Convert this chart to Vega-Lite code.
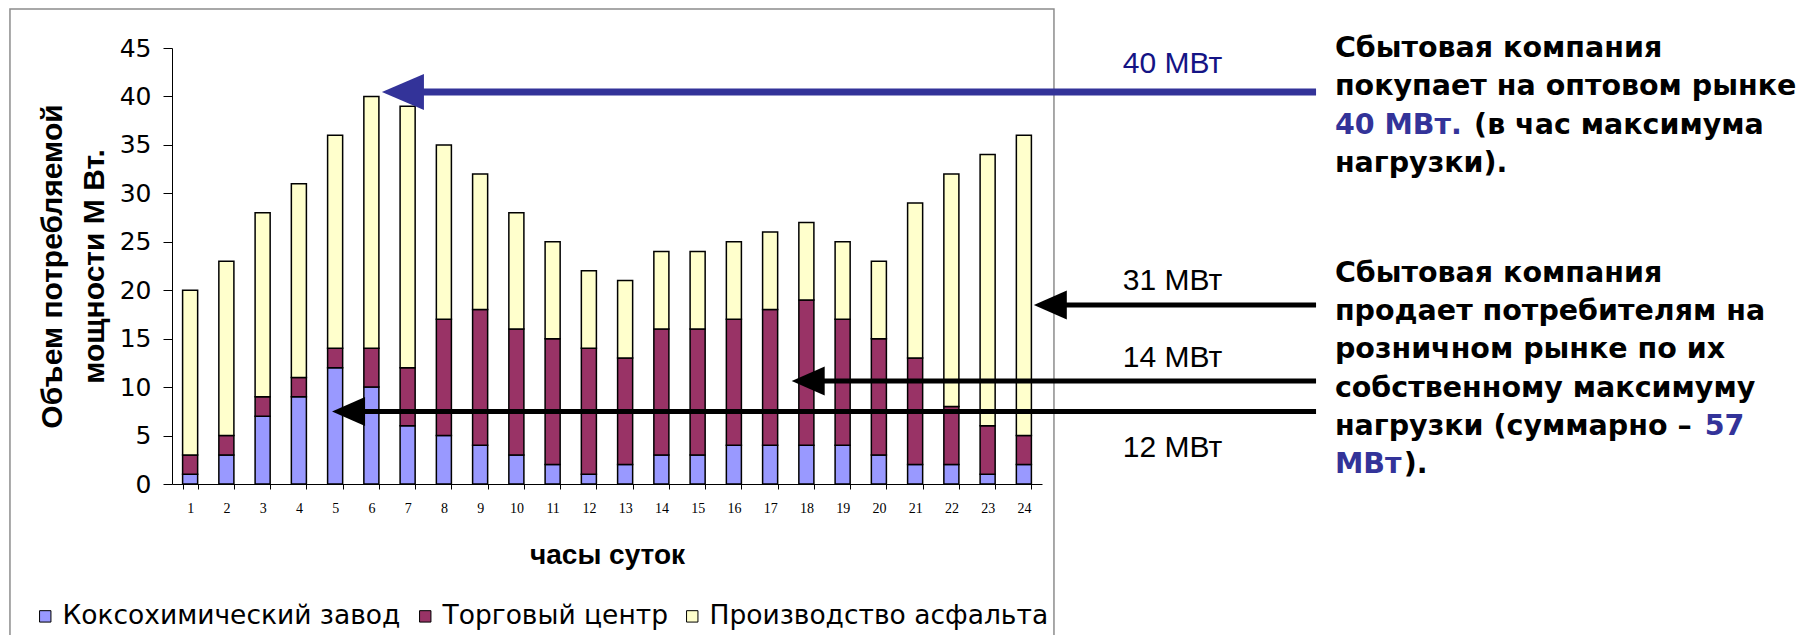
{
  "$schema": "https://vega.github.io/schema/vega-lite/v6.json",
  "width": 870,
  "height": 436,
  "autosize": {"type": "none"},
  "padding": {"left": 172, "top": 48, "right": 768, "bottom": 151},
  "background": "white",
  "config": {"view": {"stroke": null}, "font": "Liberation Sans"},
  "datasets": {
    "bars": [
      {"hour": 1, "series": "Коксохимический завод", "k": 1, "value": 1},
      {"hour": 1, "series": "Торговый центр", "k": 2, "value": 2},
      {"hour": 1, "series": "Производство асфальта", "k": 3, "value": 17},
      {"hour": 2, "series": "Коксохимический завод", "k": 1, "value": 3},
      {"hour": 2, "series": "Торговый центр", "k": 2, "value": 2},
      {"hour": 2, "series": "Производство асфальта", "k": 3, "value": 18},
      {"hour": 3, "series": "Коксохимический завод", "k": 1, "value": 7},
      {"hour": 3, "series": "Торговый центр", "k": 2, "value": 2},
      {"hour": 3, "series": "Производство асфальта", "k": 3, "value": 19},
      {"hour": 4, "series": "Коксохимический завод", "k": 1, "value": 9},
      {"hour": 4, "series": "Торговый центр", "k": 2, "value": 2},
      {"hour": 4, "series": "Производство асфальта", "k": 3, "value": 20},
      {"hour": 5, "series": "Коксохимический завод", "k": 1, "value": 12},
      {"hour": 5, "series": "Торговый центр", "k": 2, "value": 2},
      {"hour": 5, "series": "Производство асфальта", "k": 3, "value": 22},
      {"hour": 6, "series": "Коксохимический завод", "k": 1, "value": 10},
      {"hour": 6, "series": "Торговый центр", "k": 2, "value": 4},
      {"hour": 6, "series": "Производство асфальта", "k": 3, "value": 26},
      {"hour": 7, "series": "Коксохимический завод", "k": 1, "value": 6},
      {"hour": 7, "series": "Торговый центр", "k": 2, "value": 6},
      {"hour": 7, "series": "Производство асфальта", "k": 3, "value": 27},
      {"hour": 8, "series": "Коксохимический завод", "k": 1, "value": 5},
      {"hour": 8, "series": "Торговый центр", "k": 2, "value": 12},
      {"hour": 8, "series": "Производство асфальта", "k": 3, "value": 18},
      {"hour": 9, "series": "Коксохимический завод", "k": 1, "value": 4},
      {"hour": 9, "series": "Торговый центр", "k": 2, "value": 14},
      {"hour": 9, "series": "Производство асфальта", "k": 3, "value": 14},
      {"hour": 10, "series": "Коксохимический завод", "k": 1, "value": 3},
      {"hour": 10, "series": "Торговый центр", "k": 2, "value": 13},
      {"hour": 10, "series": "Производство асфальта", "k": 3, "value": 12},
      {"hour": 11, "series": "Коксохимический завод", "k": 1, "value": 2},
      {"hour": 11, "series": "Торговый центр", "k": 2, "value": 13},
      {"hour": 11, "series": "Производство асфальта", "k": 3, "value": 10},
      {"hour": 12, "series": "Коксохимический завод", "k": 1, "value": 1},
      {"hour": 12, "series": "Торговый центр", "k": 2, "value": 13},
      {"hour": 12, "series": "Производство асфальта", "k": 3, "value": 8},
      {"hour": 13, "series": "Коксохимический завод", "k": 1, "value": 2},
      {"hour": 13, "series": "Торговый центр", "k": 2, "value": 11},
      {"hour": 13, "series": "Производство асфальта", "k": 3, "value": 8},
      {"hour": 14, "series": "Коксохимический завод", "k": 1, "value": 3},
      {"hour": 14, "series": "Торговый центр", "k": 2, "value": 13},
      {"hour": 14, "series": "Производство асфальта", "k": 3, "value": 8},
      {"hour": 15, "series": "Коксохимический завод", "k": 1, "value": 3},
      {"hour": 15, "series": "Торговый центр", "k": 2, "value": 13},
      {"hour": 15, "series": "Производство асфальта", "k": 3, "value": 8},
      {"hour": 16, "series": "Коксохимический завод", "k": 1, "value": 4},
      {"hour": 16, "series": "Торговый центр", "k": 2, "value": 13},
      {"hour": 16, "series": "Производство асфальта", "k": 3, "value": 8},
      {"hour": 17, "series": "Коксохимический завод", "k": 1, "value": 4},
      {"hour": 17, "series": "Торговый центр", "k": 2, "value": 14},
      {"hour": 17, "series": "Производство асфальта", "k": 3, "value": 8},
      {"hour": 18, "series": "Коксохимический завод", "k": 1, "value": 4},
      {"hour": 18, "series": "Торговый центр", "k": 2, "value": 15},
      {"hour": 18, "series": "Производство асфальта", "k": 3, "value": 8},
      {"hour": 19, "series": "Коксохимический завод", "k": 1, "value": 4},
      {"hour": 19, "series": "Торговый центр", "k": 2, "value": 13},
      {"hour": 19, "series": "Производство асфальта", "k": 3, "value": 8},
      {"hour": 20, "series": "Коксохимический завод", "k": 1, "value": 3},
      {"hour": 20, "series": "Торговый центр", "k": 2, "value": 12},
      {"hour": 20, "series": "Производство асфальта", "k": 3, "value": 8},
      {"hour": 21, "series": "Коксохимический завод", "k": 1, "value": 2},
      {"hour": 21, "series": "Торговый центр", "k": 2, "value": 11},
      {"hour": 21, "series": "Производство асфальта", "k": 3, "value": 16},
      {"hour": 22, "series": "Коксохимический завод", "k": 1, "value": 2},
      {"hour": 22, "series": "Торговый центр", "k": 2, "value": 6},
      {"hour": 22, "series": "Производство асфальта", "k": 3, "value": 24},
      {"hour": 23, "series": "Коксохимический завод", "k": 1, "value": 1},
      {"hour": 23, "series": "Торговый центр", "k": 2, "value": 5},
      {"hour": 23, "series": "Производство асфальта", "k": 3, "value": 28},
      {"hour": 24, "series": "Коксохимический завод", "k": 1, "value": 2},
      {"hour": 24, "series": "Торговый центр", "k": 2, "value": 3},
      {"hour": 24, "series": "Производство асфальта", "k": 3, "value": 31}
    ],
    "frame": [{"x": -3.97, "x2": 24.83, "y": 49.02, "y2": -17}],
    "arrows": [
      {"kind": "wholesale", "x": 6.87, "x2": 32.06, "y": 40.45},
      {"kind": "retail", "x": 24.73, "x2": 32.06, "y": 18.47},
      {"kind": "retail", "x": 18.05, "x2": 32.06, "y": 10.63},
      {"kind": "retail", "x": 5.37, "x2": 32.06, "y": 7.48}
    ],
    "labels": [
      {"kind": "wholesale", "x": 28.1, "y": 42.4, "text": "40 МВт"},
      {"kind": "retail", "x": 28.1, "y": 20.0, "text": "31 МВт"},
      {"kind": "retail", "x": 28.1, "y": 12.07, "text": "14 МВт"},
      {"kind": "retail", "x": 28.1, "y": 2.79, "text": "12 МВт"}
    ],
    "notes": [
      {"x": 32.58, "y": 44.1, "text": "Сбытовая компания", "emph": false},
      {"x": 32.58, "y": 40.12, "text": "покупает на оптовом рынке", "emph": false},
      {"x": 32.58, "y": 36.17, "text": "40 МВт.", "emph": true},
      {"x": 36.42, "y": 36.17, "text": "(в час максимума", "emph": false},
      {"x": 32.58, "y": 32.2, "text": "нагрузки).", "emph": false},
      {"x": 32.58, "y": 20.88, "text": "Сбытовая компания", "emph": false},
      {"x": 32.58, "y": 16.92, "text": "продает потребителям на", "emph": false},
      {"x": 32.58, "y": 12.97, "text": "розничном рынке по их", "emph": false},
      {"x": 32.58, "y": 9.0, "text": "собственному максимуму", "emph": false},
      {"x": 32.58, "y": 5.06, "text": "нагрузки (суммарно –", "emph": false},
      {"x": 42.78, "y": 5.06, "text": "57", "emph": true},
      {"x": 32.58, "y": 1.1, "text": "МВт", "emph": true},
      {"x": 34.48, "y": 1.1, "text": ").", "emph": false}
    ]
  },
  "layer": [
    {
      "data": {"name": "frame"},
      "mark": {"type": "rect", "fill": null, "fillOpacity": 0, "stroke": "#8c8c8c", "strokeWidth": 1.5},
      "encoding": {
        "x": {"field": "x", "type": "quantitative", "scale": {"domain": [0.5, 24.5], "zero": false, "nice": false}, "axis": null},
        "x2": {"field": "x2"},
        "y": {"field": "y", "type": "quantitative", "scale": {"domain": [0, 45], "zero": false, "nice": false}, "axis": null},
        "y2": {"field": "y2"}
      }
    },
    {
      "data": {"name": "bars"},
      "mark": {"type": "bar", "stroke": "black", "strokeWidth": 1.5},
      "encoding": {
        "x": {
          "field": "hour", "type": "ordinal",
          "scale": {"paddingInner": 0.585, "paddingOuter": 0.2925},
          "axis": {
            "title": "часы суток", "labelAngle": 0, "labelFont": "Liberation Serif", "labelFontSize": 14, "labelColor": "black",
            "tickBand": "extent", "tickSize": 5, "tickColor": "black", "domainColor": "black", "labelPadding": 12,
            "titleFont": "Liberation Sans", "titleFontSize": 28, "titleFontWeight": "bold", "titleColor": "black", "titlePadding": 26
          }
        },
        "y": {
          "field": "value", "type": "quantitative", "stack": "zero",
          "scale": {"domain": [0, 45], "nice": false},
          "axis": {
            "title": ["Объем потребляемой", "мощности М Вт."], "values": [0, 5, 10, 15, 20, 25, 30, 35, 40, 45],
            "grid": false, "labelFont": "DejaVu Sans", "labelFontSize": 25, "labelColor": "black", "labelPadding": 12,
            "tickSize": 9, "tickColor": "black", "domainColor": "black",
            "titleFont": "Liberation Sans", "titleFontSize": 30, "titleFontWeight": "bold", "titleColor": "black",
            "titleLineHeight": 42, "titlePadding": 10
          }
        },
        "color": {
          "field": "series", "type": "nominal",
          "scale": {"domain": ["Коксохимический завод", "Торговый центр", "Производство асфальта"], "range": ["#9999ff", "#993366", "#ffffcc"]},
          "legend": {
            "orient": "none", "legendX": -140, "legendY": 555, "direction": "horizontal", "title": null,
            "symbolType": "square", "symbolSize": 130, "symbolStrokeColor": "black", "symbolStrokeWidth": 1, "symbolOpacity": 1,
            "labelFont": "DejaVu Sans", "labelFontSize": 26.5, "labelColor": "black", "labelOffset": 4, "columnPadding": 11, "labelLimit": 0
          }
        },
        "order": {"field": "k", "type": "quantitative"}
      }
    },
    {
      "layer": [
        {
          "data": {"name": "arrows"},
          "transform": [{"filter": "datum.kind === 'wholesale'"}],
          "mark": {"type": "rule", "color": "#333399", "strokeWidth": 7},
          "encoding": {
            "x": {"field": "x", "type": "quantitative", "scale": {"domain": [0.5, 24.5], "zero": false, "nice": false}, "axis": null},
            "x2": {"field": "x2"},
            "y": {"field": "y", "type": "quantitative", "scale": {"domain": [0, 45], "zero": false, "nice": false}, "axis": null}
          }
        },
        {
          "data": {"name": "arrows"},
          "transform": [{"filter": "datum.kind === 'retail'"}],
          "mark": {"type": "rule", "color": "black", "strokeWidth": 5},
          "encoding": {
            "x": {"field": "x", "type": "quantitative"},
            "x2": {"field": "x2"},
            "y": {"field": "y", "type": "quantitative"}
          }
        },
        {
          "data": {"name": "arrows"},
          "transform": [{"filter": "datum.kind === 'wholesale'"}],
          "mark": {"type": "point", "filled": true, "opacity": 1, "color": "#333399", "shape": "M-1,0L1,-0.857L1,0.857Z", "size": 1764},
          "encoding": {
            "x": {"field": "x", "type": "quantitative"},
            "y": {"field": "y", "type": "quantitative"}
          }
        },
        {
          "data": {"name": "arrows"},
          "transform": [{"filter": "datum.kind === 'retail'"}],
          "mark": {"type": "point", "filled": true, "opacity": 1, "color": "black", "shape": "M-1,0L1,-0.88L1,0.88Z", "size": 1089},
          "encoding": {
            "x": {"field": "x", "type": "quantitative"},
            "y": {"field": "y", "type": "quantitative"}
          }
        },
        {
          "data": {"name": "labels"},
          "transform": [{"filter": "datum.kind === 'wholesale'"}],
          "mark": {"type": "text", "align": "center", "baseline": "alphabetic", "font": "Liberation Sans", "fontSize": 30, "color": "#141485"},
          "encoding": {
            "x": {"field": "x", "type": "quantitative"},
            "y": {"field": "y", "type": "quantitative"},
            "text": {"field": "text"}
          }
        },
        {
          "data": {"name": "labels"},
          "transform": [{"filter": "datum.kind === 'retail'"}],
          "mark": {"type": "text", "align": "center", "baseline": "alphabetic", "font": "Liberation Sans", "fontSize": 30, "color": "black"},
          "encoding": {
            "x": {"field": "x", "type": "quantitative"},
            "y": {"field": "y", "type": "quantitative"},
            "text": {"field": "text"}
          }
        },
        {
          "data": {"name": "notes"},
          "transform": [{"filter": "!datum.emph"}],
          "mark": {"type": "text", "align": "left", "baseline": "alphabetic", "font": "DejaVu Sans", "fontWeight": "bold", "fontSize": 28.5, "color": "black"},
          "encoding": {
            "x": {"field": "x", "type": "quantitative"},
            "y": {"field": "y", "type": "quantitative"},
            "text": {"field": "text"}
          }
        },
        {
          "data": {"name": "notes"},
          "transform": [{"filter": "datum.emph"}],
          "mark": {"type": "text", "align": "left", "baseline": "alphabetic", "font": "DejaVu Sans", "fontWeight": "bold", "fontSize": 28.5, "color": "#333399"},
          "encoding": {
            "x": {"field": "x", "type": "quantitative"},
            "y": {"field": "y", "type": "quantitative"},
            "text": {"field": "text"}
          }
        }
      ]
    }
  ],
  "resolve": {"scale": {"x": "independent", "y": "independent", "color": "independent"}}
}
